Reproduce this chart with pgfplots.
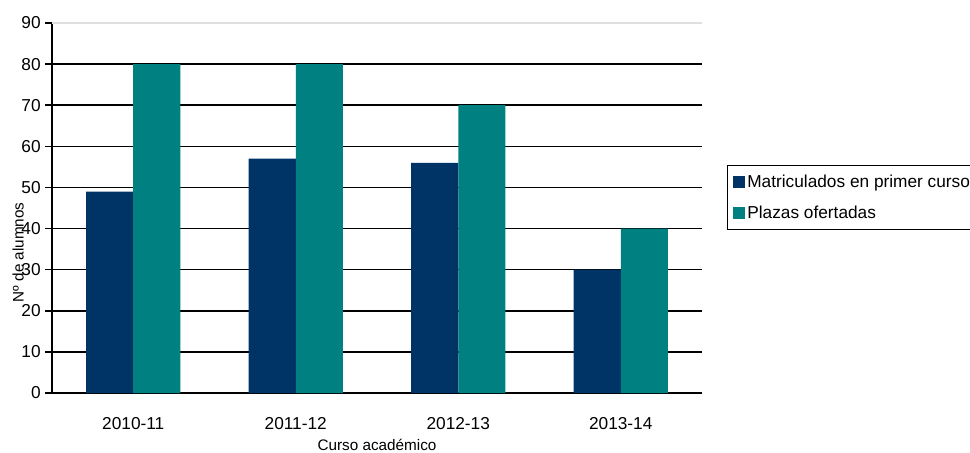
\documentclass[border=0pt]{standalone}
\usepackage{fontspec}
\setmainfont{Liberation Sans}
\usepackage{pgfplots}
\pgfplotsset{compat=1.18}
\definecolor{navy}{RGB}{0,51,102}
\definecolor{teal}{RGB}{0,128,128}
\begin{document}
\begin{tikzpicture}[x=1bp,y=1bp]
\begin{axis}[
  /pgf/number format/assume math mode=true,
  scale only axis,
  width=487.5bp, height=277.5bp,
  ybar=0pt, bar width=0.29,
  xmin=-0.5, xmax=3.5, ymin=0, ymax=90,
  axis x line*=bottom, axis y line*=left,
  axis line style={line width=1.2bp},
  xtick={0,1,2,3},
  xticklabels={2010-11,2011-12,2012-13,2013-14},
  major x tick style={draw=none},
  extra x ticks={-0.5,0.5,1.5,2.5,3.5},
  extra x tick labels={},
  extra x tick style={tick style={draw=black,line width=1.2bp}, major tick length=5bp, tick align=outside, grid=none},
  ytick={0,10,...,80},
  extra y ticks={90},
  extra y tick style={grid style={gray!25,line width=1bp}},
  ymajorgrids,
  grid style={black,line width=1.1bp},
  tick align=outside, major tick length=5bp,
  y tick style={black,line width=1.2bp},
  tick label style={font=\fontsize{13}{15}\selectfont},
  xticklabel style={yshift=-10bp},
  xlabel={Curso académico},
  xlabel style={font=\fontsize{11.5}{13}\selectfont, at={(axis description cs:0.5,-0.1)}, anchor=north, inner sep=0pt, yshift=-7bp},
  ylabel={Nº de alumnos},
  ylabel style={font=\fontsize{11.5}{13}\selectfont, at={(axis description cs:-0.052,0.38)}, anchor=center, rotate=0},
  legend style={at={(axis description cs:1.038,0.616)}, anchor=north west, draw=black, line width=1bp,
    font=\fontsize{13}{15}\selectfont, row sep=8bp, inner xsep=4bp, inner ysep=5bp},
  legend cell align=left,
  legend image code/.code={\fill[#1] (0bp,-4.5bp) rectangle (9bp,4.5bp);},
  clip=false,
]
\addplot[fill=navy, draw=none] coordinates {(0,49) (1,57) (2,56) (3,30)};
\addlegendentry{Matriculados en primer curso}
\addplot[fill=teal, draw=none] coordinates {(0,80) (1,80) (2,70) (3,40)};
\addlegendentry{Plazas ofertadas}
\coordinate (bl) at (rel axis cs:0,0);
\end{axis}
\pgfresetboundingbox
\path ([shift={(-39bp,-45bp)}]bl) rectangle ([shift={(688.5bp,294.75bp)}]bl);
\end{tikzpicture}
\end{document}
